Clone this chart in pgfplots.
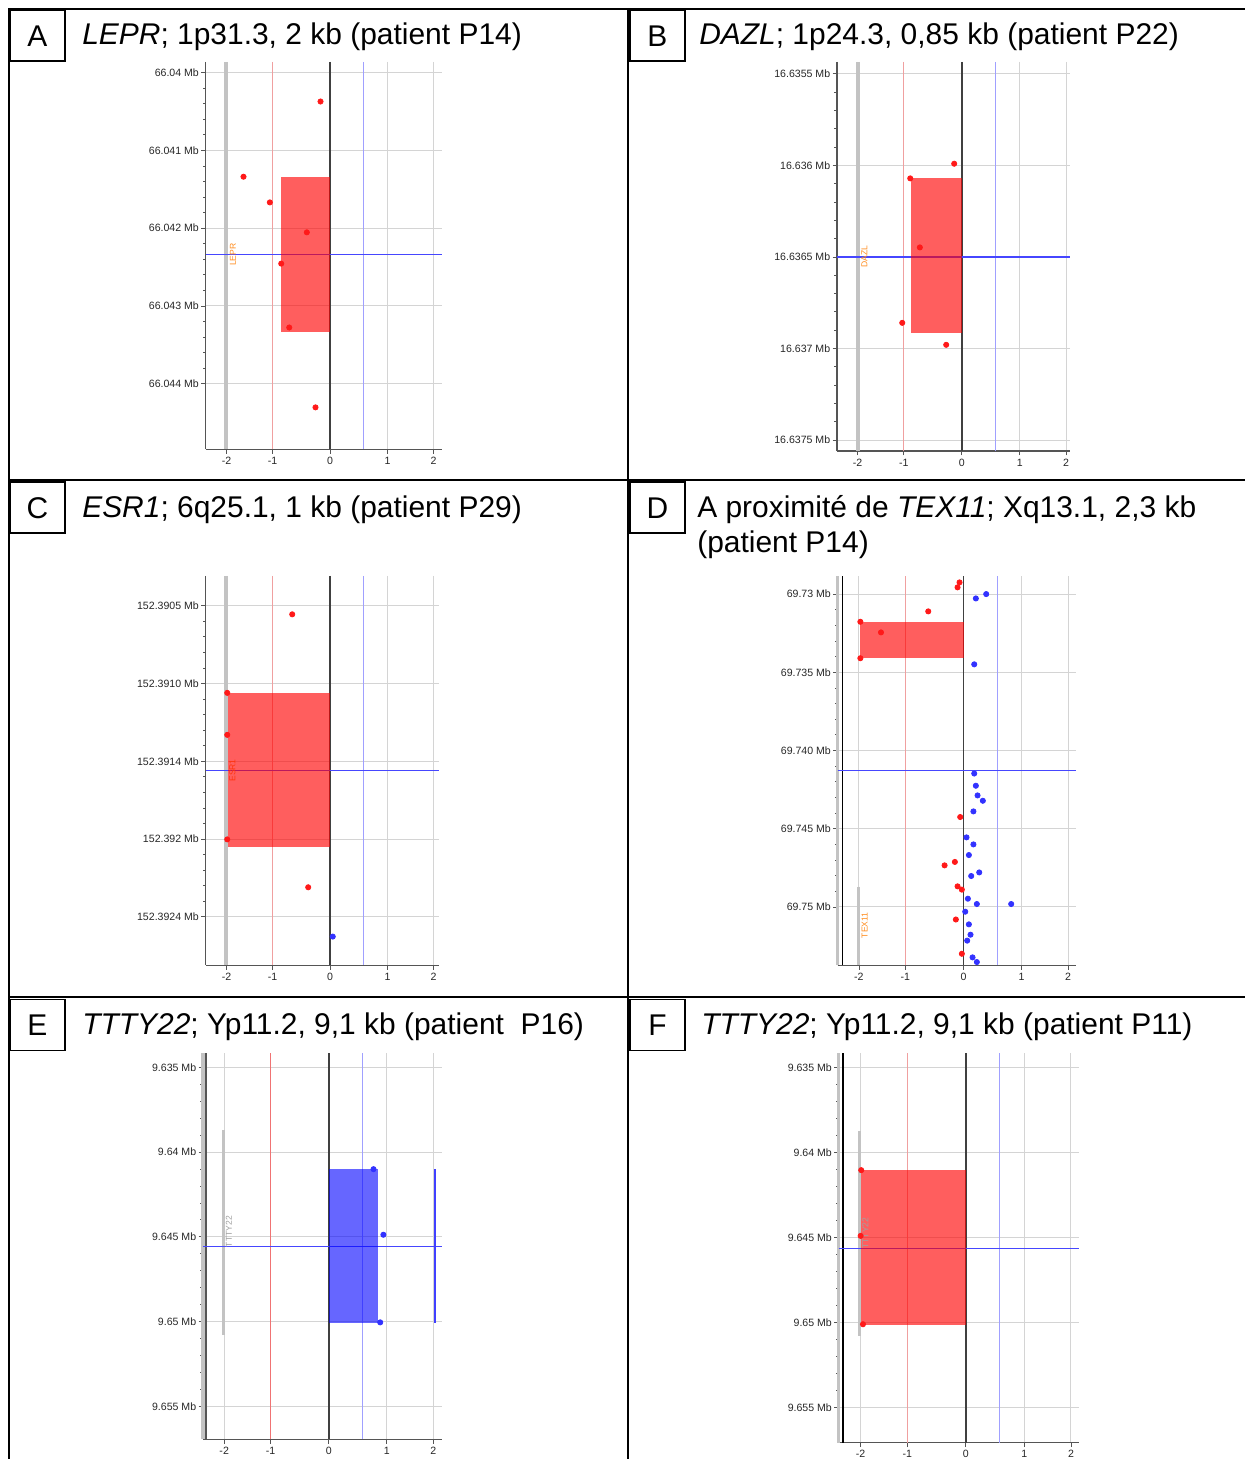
\documentclass[border=0pt]{standalone}
\usepackage{fontspec}
\setmainfont{Liberation Sans}
\usepackage{pgfplots}
\pgfplotsset{compat=1.18}

\definecolor{dotred}{RGB}{255,25,25}
\definecolor{dotblue}{RGB}{50,50,255}
\definecolor{vred}{RGB}{240,160,160}
\definecolor{vredE}{RGB}{240,115,115}
\definecolor{vblue}{RGB}{160,160,255}
\definecolor{hblue}{RGB}{70,70,255}
\definecolor{gridgray}{RGB}{212,212,212}
\definecolor{genegray}{RGB}{195,195,195}
\definecolor{axgray}{RGB}{85,85,85}
\definecolor{geneorange}{RGB}{255,140,30}
\definecolor{labelgray}{RGB}{160,160,160}

\newcommand\tickfont{\fontsize{5.3}{6}\selectfont}
\newcommand\titlefont{\fontsize{15}{17}\selectfont}
\newcommand\genefont{\fontsize{4.3}{5}\selectfont}

\pgfplotsset{
  cnv/.style={
    scale only axis, anchor=center, y dir=reverse,
    axis x line*=bottom, axis y line*=left,
    axis line style={-, draw=axgray, line width=0.6pt},
    xtick={-1.8,-1,0,1,1.8}, xticklabels={-2,-1,0,1,2},
    tick align=outside,
    major tick length=2.2pt, minor tick length=1.3pt,
    tick style={draw=axgray, line width=0.4pt},
    minor y tick num=4,
    xmajorgrids, ymajorgrids,
    grid style={draw=gridgray, line width=0.5pt},
    tick label style={font=\tickfont, text=black!85},
    yticklabel style={inner sep=1pt},
    xticklabel style={inner sep=1.5pt},
  },
  grayleft/.style={y axis line style={draw=genegray, line width=1.6pt}},
}
% standard vertical lines: #1 ymin, #2 ymax, #3 colour of the -1 line
\newcommand\stdlines[3]{%
  \addplot[#3, line width=0.5pt] coordinates {(-1,#1) (-1,#2)};
  \addplot[vblue, line width=0.5pt] coordinates {(0.585,#1) (0.585,#2)};
  \addplot[black!75, line width=0.8pt] coordinates {(0,#1) (0,#2)};
}

\begin{document}
\begin{tikzpicture}
\begin{scope}[x=0.5pt,y=-0.5pt]
  \path[use as bounding box] (0,0) rectangle (1247,1461);
  % frame
  \draw[line width=1pt] (8.5,9) -- (1247,9);
  \draw[line width=1pt] (9,8.5) -- (9,1461);
  \draw[line width=1pt] (629,8.5) -- (629,1461);
  \draw[line width=1pt] (9,481) -- (1247,481);
  \draw[line width=1pt] (9,999) -- (1247,999);
  % letter boxes
  \foreach \bx/\by/\L in {10/10/A, 631/10/B, 10/483/C, 631/483/D, 10/1001/E, 631/1001/F}{
    \draw[line width=0.8pt] (\bx,\by) rectangle ++(55,51);
    \node[font=\titlefont, inner sep=0pt] at (\bx+27.5,\by+26) {\L};
  }
  % titles
  \node[anchor=base west, inner sep=0pt, font=\titlefont] at (82,45) {\textit{LEPR}; 1p31.3,\ 2 kb (patient\ P14)};
  \node[anchor=base west, inner sep=0pt, font=\titlefont] at (700,45) {\textit{DAZL}; 1p24.3,\ 0,85 kb (patient\ P22)};
  \node[anchor=base west, inner sep=0pt, font=\titlefont] at (82,518) {\textit{ESR1}; 6q25.1,\ 1 kb (patient\ P29)};
  \node[anchor=base west, inner sep=0pt, font=\titlefont] at (698,518) {A proximité\ de \textit{TEX11}; Xq13.1,\ 2,3 kb};
  \node[anchor=base west, inner sep=0pt, font=\titlefont] at (698,553) {(patient\ P14)};
  \node[anchor=base west, inner sep=0pt, font=\titlefont] at (82,1036) {\textit{TTTY22}; Yp11.2,\ 9,1 kb (patient\ \ P16)};
  \node[anchor=base west, inner sep=0pt, font=\titlefont] at (702,1036) {\textit{TTTY22}; Yp11.2,\ 9,1 kb (patient P11)};
\end{scope}

% ---------------- A ----------------
\begin{axis}[cnv, at={(162.25pt,-128pt)}, width=118.5pt, height=194pt,
  xmin=-2.165, xmax=1.95, ymin=-0.137, ymax=4.843,
  ytick={0,1,2,3,4}, yticklabels={66.04 Mb,66.041 Mb,66.042 Mb,66.043 Mb,66.044 Mb}]
  \addplot[genegray, line width=2pt] coordinates {(-1.806,-0.137) (-1.806,4.843)};
  \stdlines{-0.137}{4.843}{vred}
  \addplot[hblue, line width=0.5pt] coordinates {(-2.165,2.34) (1.95,2.34)};
  \addplot[fill=red, fill opacity=0.63, draw=none] coordinates {(-0.85,1.339) (0,1.339) (0,3.333) (-0.85,3.333)};
  \addplot[only marks, mark=*, mark size=1.3pt, dotred] coordinates {(-0.168,0.372) (-1.507,1.339) (-1.049,1.669) (-0.406,2.054) (-0.851,2.456) (-0.712,3.277) (-0.255,4.304)};
  \node[rotate=90, text=geneorange, font=\genefont, inner sep=0pt] at (axis cs:-1.69,2.34) {LEPR};
\end{axis}

% ---------------- B ----------------
\begin{axis}[cnv, at={(477.5pt,-128.43pt)}, width=116.7pt, height=194.85pt,
  xmin=-2.155, xmax=1.869, ymin=-0.065, ymax=2.06,
  ytick={0,0.5,1,1.5,2}, yticklabels={16.6355 Mb,16.636 Mb,16.6365 Mb,16.637 Mb,16.6375 Mb}]
  \addplot[genegray, line width=2pt] coordinates {(-1.798,-0.065) (-1.798,2.06)};
  \stdlines{-0.065}{2.06}{vred}
  \addplot[hblue, line width=0.6pt] coordinates {(-2.155,1.0) (1.869,1.0)};
  \addplot[fill=red, fill opacity=0.63, draw=none] coordinates {(-0.873,0.569) (0.01,0.569) (0.01,1.415) (-0.873,1.415)};
  \addplot[only marks, mark=*, mark size=1.3pt, dotred] coordinates {(-0.131,0.491) (-0.890,0.571) (-0.724,0.948) (-1.028,1.360) (-0.269,1.480)};
  \node[rotate=90, text=geneorange, font=\genefont, inner sep=0pt] at (axis cs:-1.68,0.997) {DAZL};
\end{axis}

% ---------------- C ----------------
\begin{axis}[cnv, at={(161.5pt,-385.85pt)}, width=117pt, height=195pt,
  xmin=-2.165, xmax=1.898, ymin=-0.1926, ymax=2.311,
  ytick={0,0.5,1,1.5,2}, yticklabels={152.3905 Mb,152.3910 Mb,152.3914 Mb,152.392 Mb,152.3924 Mb}]
  \addplot[genegray, line width=2pt] coordinates {(-1.818,-0.1926) (-1.818,2.311)};
  \stdlines{-0.1926}{2.311}{vred}
  \addplot[hblue, line width=0.5pt] coordinates {(-2.165,1.061) (1.898,1.061)};
  \node[rotate=90, text=geneorange, font=\genefont, inner sep=0pt] at (axis cs:-1.7,1.059) {ESR1};
  \addplot[fill=red, fill opacity=0.63, draw=none] coordinates {(-1.77,0.56) (0,0.56) (0,1.553) (-1.77,1.553)};
  \addplot[only marks, mark=*, mark size=1.3pt, dotred] coordinates {(-0.66,0.055) (-1.79,0.56) (-1.79,0.83) (-1.79,1.502) (-0.382,1.81)};
  \addplot[only marks, mark=*, mark size=1.3pt, dotblue] coordinates {(0.045,2.127)};
\end{axis}

% ---------------- D ----------------
\begin{axis}[cnv, grayleft, at={(479.25pt,-386pt)}, width=119.5pt, height=194.7pt,
  xmin=-2.165, xmax=1.94, ymin=-1.13, ymax=23.72,
  ytick={0,5,10,15,20}, yticklabels={69.73 Mb,69.735 Mb,69.740 Mb,69.745 Mb,69.75 Mb}]
  \addplot[black, line width=0.6pt] coordinates {(-2.084,-1.13) (-2.084,23.72)};
  \addplot[genegray, line width=1.5pt] coordinates {(-1.81,18.7) (-1.81,23.72)};
  \stdlines{-1.13}{23.72}{vred}
  \addplot[hblue, line width=0.5pt] coordinates {(-2.165,11.3) (1.94,11.3)};
  \addplot[fill=red, fill opacity=0.63, draw=none] coordinates {(-1.775,1.77) (0,1.77) (0,4.10) (-1.775,4.10)};
  \addplot[only marks, mark=*, mark size=1.3pt, dotred] coordinates {(-0.069,-0.745) (-0.103,-0.43) (-0.607,1.106) (-1.775,1.77) (-1.42,2.45) (-1.775,4.10) (-0.057,14.25) (-0.149,17.12) (-0.326,17.34) (-0.103,18.68) (-0.029,18.89) (-0.132,20.8) (-0.029,22.99)};
  \addplot[only marks, mark=*, mark size=1.3pt, dotblue] coordinates {(0.39,0.0) (0.212,0.28) (0.184,4.49) (0.184,11.47) (0.212,12.25) (0.241,12.87) (0.332,13.21) (0.17,13.89) (0.051,15.55) (0.17,16.0) (0.092,16.68) (0.27,17.79) (0.132,18.02) (0.075,19.47) (0.229,19.81) (0.82,19.81) (0.029,20.3) (0.092,21.11) (0.12,21.77) (0.063,22.15) (0.155,23.22) (0.229,23.52)};
  \node[rotate=90, text=geneorange, font=\genefont, inner sep=0pt] at (axis cs:-1.7,21.17) {TEX11};
\end{axis}

% ---------------- E ----------------
\begin{axis}[cnv, grayleft, at={(161.575pt,-624.175pt)}, width=119.85pt, height=193.35pt,
  xmin=-2.165, xmax=1.954, ymin=-0.825, ymax=21.96,
  ytick={0,5,10,15,20}, yticklabels={9.635 Mb,9.64 Mb,9.645 Mb,9.65 Mb,9.655 Mb}]
  \addplot[axgray, line width=0.9pt] coordinates {(-2.107,-0.825) (-2.107,21.96)};
  \addplot[genegray, line width=1.5pt] coordinates {(-1.81,3.69) (-1.81,15.77)};
  \stdlines{-0.825}{21.96}{vredE}
  \addplot[hblue, line width=0.5pt] coordinates {(-2.165,10.59) (1.954,10.59)};
  \addplot[fill=blue, fill opacity=0.6, draw=none] coordinates {(0,6.01) (0.85,6.01) (0.85,15.09) (0,15.09)};
  \addplot[blue!75, line width=1pt] coordinates {(1.82,6.01) (1.82,15.09)};
  \addplot[only marks, mark=*, mark size=1.3pt, dotblue] coordinates {(0.77,6.01) (0.94,9.88) (0.885,15.05)};
  \node[rotate=90, text=labelgray, font=\genefont, inner sep=0pt] at (axis cs:-1.72,9.7) {TTTY22};
\end{axis}

% ---------------- F ----------------
\begin{axis}[cnv, grayleft, at={(480.175pt,-625pt)}, width=120.35pt, height=195pt,
  xmin=-2.176, xmax=1.938, ymin=-0.82, ymax=22.05,
  ytick={0,5,10,15,20}, yticklabels={9.635 Mb,9.64 Mb,9.645 Mb,9.65 Mb,9.655 Mb}]
  \addplot[black, line width=0.6pt] coordinates {(-2.103,-0.82) (-2.103,22.05)};
  \addplot[genegray, line width=1.5pt] coordinates {(-1.82,3.74) (-1.82,15.8)};
  \stdlines{-0.82}{22.05}{vred}
  \addplot[hblue, line width=0.5pt] coordinates {(-2.176,10.62) (1.938,10.62)};
  \addplot[fill=red, fill opacity=0.63, draw=none] coordinates {(-1.79,6.04) (0,6.04) (0,15.11) (-1.79,15.11)};
  \addplot[only marks, mark=*, mark size=1.3pt, dotred] coordinates {(-1.79,6.04) (-1.8,9.9) (-1.76,15.09)};
  \node[rotate=90, text=labelgray, font=\genefont, inner sep=0pt] at (axis cs:-1.72,9.74) {TTTY22};
\end{axis}
\end{tikzpicture}
\end{document}
